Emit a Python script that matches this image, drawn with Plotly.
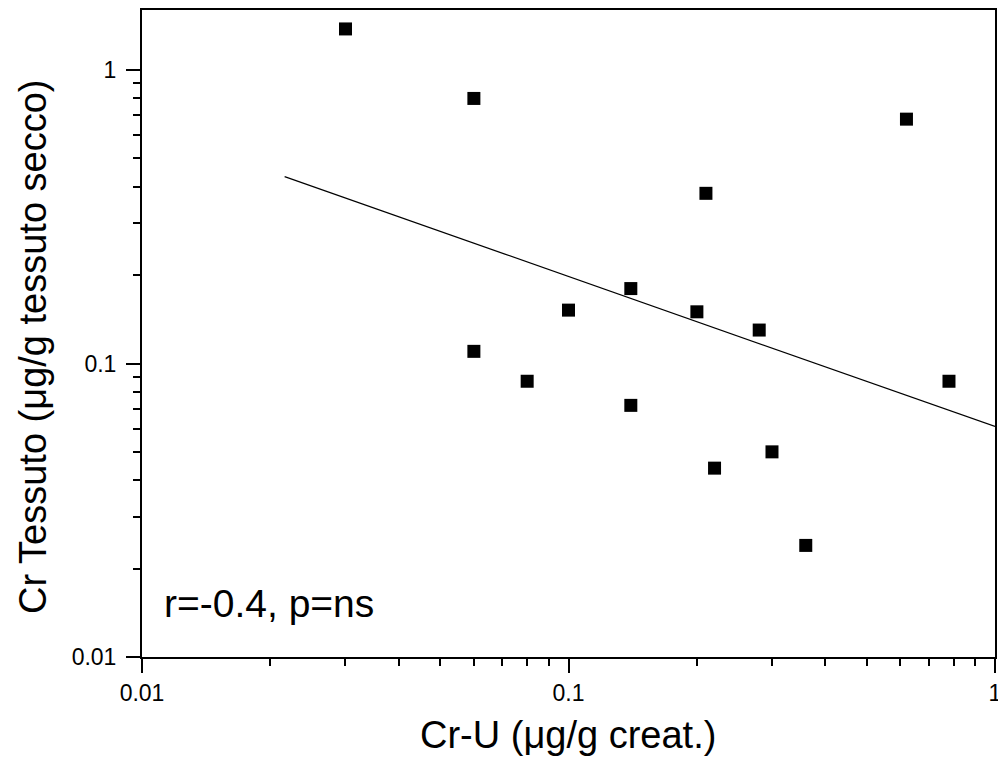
import plotly.graph_objects as go

# Data
cr_u = [0.03, 0.06, 0.62, 0.21, 0.14, 0.10, 0.20, 0.28, 0.06, 0.08, 0.14, 0.22, 0.30, 0.78, 0.36]
cr_tessuto = [1.38, 0.80, 0.68, 0.38, 0.18, 0.152, 0.150, 0.130, 0.110, 0.087, 0.072, 0.044, 0.050, 0.087, 0.024]

fit_x = [0.0216, 1.0]
fit_y = [0.433, 0.061]

x_tickvals = [0.01, 0.1, 1]
x_ticktext = ["0.01", "0.1", "1"]
y_tickvals = [0.01, 0.1, 1]
y_ticktext = ["0.01", "0.1", "1"]

annotation_text = "r=-0.4, p=ns"
x_title = "Cr-U (μg/g creat.)"
y_title = "Cr Tessuto (μg/g tessuto secco)"

FONT = "Liberation Sans, Arial, sans-serif"

fig = go.Figure()
fig.add_trace(go.Scatter(
    x=cr_u, y=cr_tessuto, mode="markers",
    marker=dict(symbol="square", size=13, color="black", line=dict(width=0)),
    showlegend=False, cliponaxis=False,
))
fig.add_trace(go.Scatter(
    x=fit_x, y=fit_y, mode="lines",
    line=dict(color="black", width=1.2),
    showlegend=False,
))

axis_common = dict(
    type="log",
    showgrid=False, zeroline=False,
    showline=True, linecolor="black", linewidth=2, mirror=True,
    ticks="outside", ticklen=14, tickwidth=2, tickcolor="black",
    tickfont=dict(family=FONT, size=23, color="black"),
    ticklabeloverflow="allow",
    automargin=False,
    minor=dict(ticks="outside", ticklen=7, tickwidth=2, tickcolor="black",
               dtick="D1", showgrid=False),
)

fig.update_xaxes(
    **axis_common,
    range=[-2, 0],
    tickmode="array", tickvals=x_tickvals, ticktext=x_ticktext,
)
fig.update_yaxes(
    **axis_common,
    range=[-2, 0.2044],
    tickmode="array", tickvals=y_tickvals, ticktext=y_ticktext,
    ticklabelstandoff=5,
)

fig.add_annotation(
    text=annotation_text, xref="paper", yref="paper",
    x=0.024, y=0.083, xanchor="left", yanchor="middle",
    showarrow=False, font=dict(family=FONT, size=39, color="black"),
)
fig.add_annotation(
    text=x_title, xref="paper", yref="paper",
    x=0.4994, y=-0.1206, xanchor="center", yanchor="middle",
    showarrow=False, font=dict(family=FONT, size=38, color="black"),
)
fig.add_annotation(
    text=y_title, xref="paper", yref="paper", textangle=-90,
    x=-0.128, y=0.479, xanchor="center", yanchor="middle",
    showarrow=False, font=dict(family=FONT, size=38, color="black"),
)

fig.update_layout(
    width=998, height=774,
    margin=dict(l=142, r=3, t=10, b=117, autoexpand=False),
    plot_bgcolor="white", paper_bgcolor="white",
)

fig.write_html("out.html")
